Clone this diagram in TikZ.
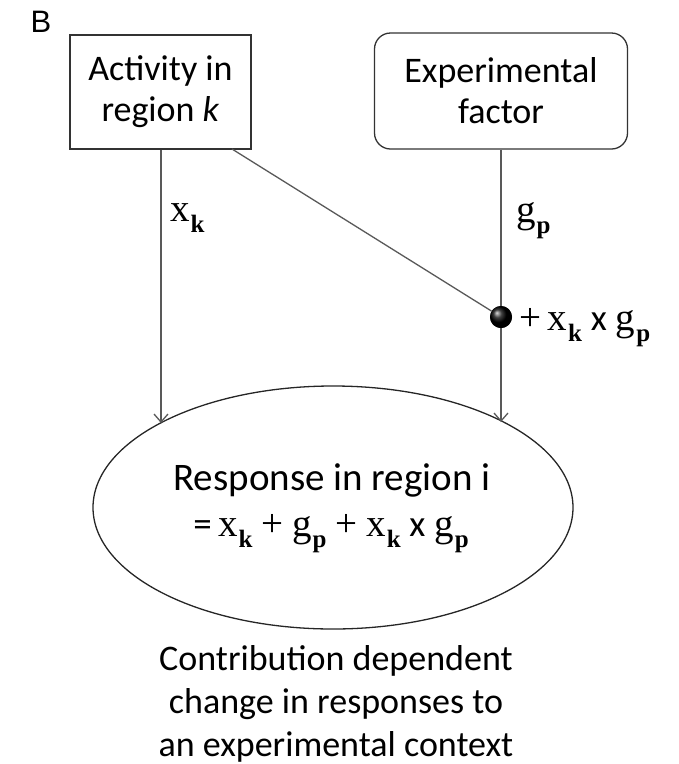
\documentclass[tikz,border=0pt]{standalone}
\usepackage{fontspec}
\setmainfont{Carlito}
\newfontfamily\ser{Liberation Serif}
\newfontfamily\sansB{Liberation Sans}
\usetikzlibrary{arrows.meta,shapes.geometric}
\newcommand{\mysub}[1]{\hspace{1pt}\raisebox{-0.3em}{\fontsize{25}{25}\selectfont\ser\bfseries #1}}
\newcommand{\xk}{{\ser x}\mysub{k}}
\newcommand{\gp}{{\ser g}\mysub{p}}
\begin{document}
\begin{tikzpicture}[x=1pt,y=-1pt,
  txt/.style={font=\fontsize{36}{41}\selectfont, align=center, inner sep=0},
  mth/.style={font=\fontsize{39}{39}\selectfont, inner sep=0},
  conn/.style={draw=black!65, line width=1.3pt},
  arr/.style={conn, -{Straight Barb[length=8pt,width=14pt]}},
  box/.style={draw=black!80, line width=1.3pt, inner sep=0}]
\useasboundingbox (0,0) rectangle (679,764);
\node[anchor=base, inner sep=0] (lbl) at (41,32) {\sansB\fontsize{31}{31}\selectfont B};
\node[box, minimum width=181, minimum height=114] (act) at (160.5,92) {};
\node[txt] (actt) at (act.center) {Activity in\\region \textit{k}};
\node[box, rounded corners=16pt, minimum width=253, minimum height=116] (exp) at (501,91) {};
\node[txt] (expt) at (exp.center) {Experimental\\factor};
\node[draw=black!85, line width=1.3pt, ellipse, minimum width=480, minimum height=243, inner sep=0] (resp) at (333,507.5) {};
\node[txt, anchor=base, font=\fontsize{39}{41}\selectfont] (r1) at (332,490) {Response in region i};
\node[mth, anchor=base] (r2) at (331,536) {{\fontsize{37}{37}\selectfont\rmfamily =}\,\xk\ {\ser +}\ \gp\ {\ser +}\ \xk\ {\fontsize{37}{37}\selectfont\rmfamily x}\ \gp};
\node[shading=ball, ball color=black, circle, minimum size=22, inner sep=0] (dot) at (501,317) {};
\coordinate (la) at (161,423);
\coordinate (ra) at (501,422);
\coordinate (ds) at (232,149);
\draw[arr] (act.south -| la) -- (la);
\draw[conn] (ds) -- (dot);
\draw[conn] (exp.south) -- (dot);
\draw[arr] (dot) -- (ra);
\node[shading=ball, ball color=black, circle, minimum size=22, inner sep=0] (dot2) at (dot) {};
\node[mth, anchor=base west] (lx) at (170,221) {\xk};
\node[mth, anchor=base west] (lg) at (516,222) {\gp};
\node[mth, anchor=base west] (lxg) at (519,330) {{\ser +}\,\xk\ {\fontsize{37}{37}\selectfont\rmfamily x}\ \gp};
\node[txt, anchor=base] (c1) at (336,670) {Contribution dependent};
\node[txt, anchor=base] (c2) at (336,713) {change in responses to};
\node[txt, anchor=base] (c3) at (336,756) {an experimental context};
\end{tikzpicture}
\end{document}
